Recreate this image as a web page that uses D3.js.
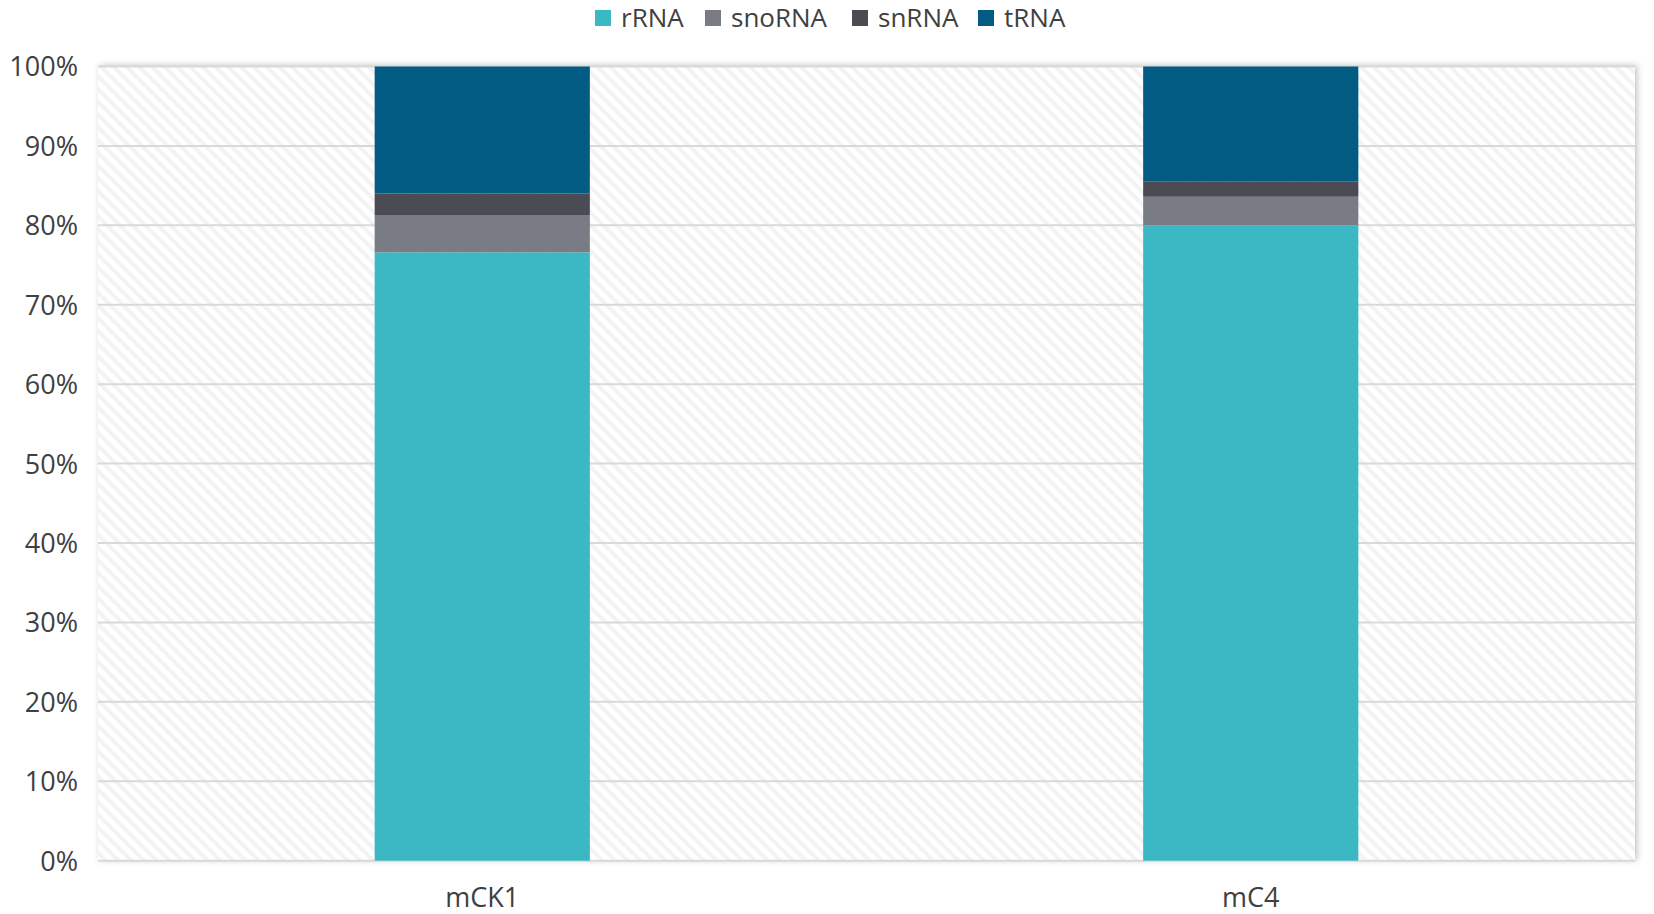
<!DOCTYPE html>
<html>
<head>
<meta charset="utf-8">
<script src="https://cdn.jsdelivr.net/npm/d3@7"></script>
<style>
  html, body { margin: 0; padding: 0; background: #fff; }
  svg { display: block; }
  text { font-family: "Open Sans", "Noto Sans", sans-serif; fill: #404040; }
</style>
</head>
<body>
<svg id="chart" width="1654" height="914"></svg>
<script>
// Small RNA composition per sample (percent of reads)
const categories = ["mCK1", "mC4"];
const seriesNames = ["rRNA", "snoRNA", "snRNA", "tRNA"];
const rRNA   = [76.6, 80.0];
const snoRNA = [4.7, 3.6];
const snRNA  = [2.7, 1.9];
const tRNA   = [16.0, 14.5];
const yTicks = [0, 10, 20, 30, 40, 50, 60, 70, 80, 90, 100];
const colors = ["#3bb8c3", "#7a7c85", "#4a4b53", "#025b83"];

const seriesValues = [rRNA, snoRNA, snRNA, tRNA];
const rows = categories.map((c, i) => {
  const r = { category: c };
  seriesNames.forEach((s, k) => { r[s] = seriesValues[k][i]; });
  return r;
});

const W = 1654, H = 914;
const margin = { top: 66.5, right: 19, bottom: 53.3, left: 98 };
const iw = W - margin.left - margin.right;
const ih = H - margin.top - margin.bottom;

const svg = d3.select("#chart");
const defs = svg.append("defs");

// diagonal hatch for the plot background
const pat = defs.append("pattern")
  .attr("id", "hatch")
  .attr("patternUnits", "userSpaceOnUse")
  .attr("width", 9).attr("height", 9)
  .attr("patternTransform", "rotate(-45)");
pat.append("rect").attr("width", 9).attr("height", 9).attr("fill", "#ffffff");
pat.append("rect").attr("width", 4).attr("height", 9).attr("fill", "#f3f3f3");

const shadow = defs.append("filter").attr("id", "shadow")
  .attr("x", "-5%").attr("y", "-5%").attr("width", "110%").attr("height", "110%");
shadow.append("feDropShadow")
  .attr("dx", 2).attr("dy", -1).attr("stdDeviation", 3)
  .attr("flood-color", "#000").attr("flood-opacity", 0.25);

const g = svg.append("g").attr("transform", `translate(${margin.left},${margin.top})`);

const x = d3.scaleBand().domain(categories).range([0, iw]).paddingInner(0.72).paddingOuter(0.36);
const y = d3.scaleLinear().domain([0, 100]).range([ih, 0]);

// plot area
g.append("rect")
  .attr("width", iw).attr("height", ih)
  .attr("fill", "url(#hatch)")
  .attr("filter", "url(#shadow)");

// gridlines
g.append("g")
  .selectAll("line")
  .data(yTicks)
  .join("line")
  .attr("x1", 0).attr("x2", iw)
  .attr("y1", d => y(d)).attr("y2", d => y(d))
  .attr("stroke", "#d9d9d9").attr("stroke-width", 2);

// stacked bars
const stack = d3.stack().keys(seriesNames)(rows);
g.append("g")
  .selectAll("g")
  .data(stack)
  .join("g")
  .attr("fill", (d, i) => colors[i])
  .selectAll("rect")
  .data(d => d)
  .join("rect")
  .attr("x", d => x(d.data.category))
  .attr("width", x.bandwidth())
  .attr("y", d => y(Math.min(d[1], 100)))
  .attr("height", d => y(d[0]) - y(Math.min(d[1], 100)));

// y axis labels
const yAxis = g.append("g")
  .call(d3.axisLeft(y).tickValues(yTicks).tickFormat(d => d + "%").tickSize(0).tickPadding(20));
yAxis.select(".domain").remove();
yAxis.selectAll("text")
  .style("font-size", "27px")
  .attr("fill", "#404040")
  .attr("dy", "0.35em");

// x axis labels
const xAxis = g.append("g")
  .attr("transform", `translate(0,${ih})`)
  .call(d3.axisBottom(x).tickSize(0).tickPadding(27));
xAxis.select(".domain").remove();
xAxis.selectAll("text")
  .style("font-size", "27px")
  .attr("fill", "#404040");

// legend
const legendItems = [
  { name: "rRNA", x: 595 },
  { name: "snoRNA", x: 705 },
  { name: "snRNA", x: 852 },
  { name: "tRNA", x: 978 }
];
const legend = svg.append("g");
legendItems.forEach((it, i) => {
  const lg = legend.append("g").attr("transform", `translate(${it.x},0)`);
  lg.append("rect").attr("x", 0).attr("y", 10).attr("width", 16).attr("height", 16).attr("fill", colors[i]);
  lg.append("text").attr("x", 26).attr("y", 27).style("font-size", "26px").text(seriesNames[i]);
});
</script>
</body>
</html>
